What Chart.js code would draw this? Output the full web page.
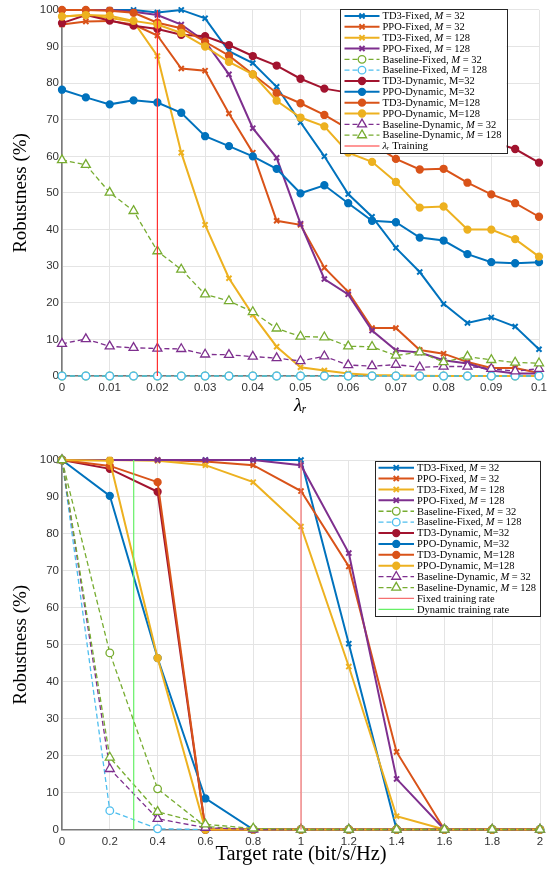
<!DOCTYPE html>
<html>
<head>
<meta charset="utf-8">
<script src="https://cdn.jsdelivr.net/npm/chart.js@4.4.0/dist/chart.umd.min.js"></script>
<style>
  html, body { margin: 0; padding: 0; background: #fff; }
  #wrap { position: relative; width: 553px; height: 870px; }
  canvas { position: absolute; left: 0; }
</style>
</head>
<body>
<div id="wrap">
  <canvas id="lambda-chart" width="553" height="435" style="top:0"></canvas>
  <canvas id="rate-chart" width="553" height="435" style="top:435px"></canvas>
</div>
<script>
// ---- top chart: robustness vs lambda_r ----
const lambdaR = [0, 0.005, 0.01, 0.015, 0.02, 0.025, 0.03, 0.035, 0.04, 0.045, 0.05,
                 0.055, 0.06, 0.065, 0.07, 0.075, 0.08, 0.085, 0.09, 0.095, 0.1];
const lamTd3Fixed32  = [100, 100, 100, 100, 99.3, 100, 97.7, 88.7, 85.5, 79, 69.3, 60, 49.7, 43.5, 35, 28.4, 19.7, 14.5, 16, 13.5, 7.3];
const lamPpoFixed32  = [96, 96.8, 97, 96, 93, 84, 83.4, 71.7, 61, 42.4, 41.3, 29.6, 23, 13.1, 13.1, 7.1, 6.1, 3.8, 2.2, 2.2, 0.8];
const lamTd3Fixed128 = [98.2, 98.6, 97.8, 96.8, 87.4, 61, 41.3, 26.7, 16.7, 8, 2.4, 1.5, 0.7, 0.3, 0.2, 0.1, 0, 0, 0, 0, 0];
const lamPpoFixed128 = [100, 100, 100, 99.5, 98.6, 96, 91.4, 82.4, 67.7, 59.6, 41.6, 26.5, 22.3, 12.4, 7, 6.4, 4.3, 3.4, 1.5, 0.7, 0.7];
const lamBaseFixed32  = [0, 0, 0, 0, 0, 0, 0, 0, 0, 0, 0, 0, 0, 0, 0, 0, 0, 0, 0, 0, 0];
const lamBaseFixed128 = [0, 0, 0, 0, 0, 0, 0, 0, 0, 0, 0, 0, 0, 0, 0, 0, 0, 0, 0, 0, 0];
const lamTd3Dyn32  = [96.4, 98.6, 97.1, 95.7, 94.8, 93.2, 92.8, 90.4, 87.4, 84.8, 81.2, 78.5, 77.4, 75.5, 73.5, 71, 68.5, 66, 64, 62, 58.3];
const lamPpoDyn32  = [78.2, 76.1, 74.2, 75.3, 74.7, 71.9, 65.5, 62.8, 60, 56.6, 49.9, 52.1, 47.2, 42.4, 42, 37.8, 37, 33.3, 31.1, 30.8, 31.1];
const lamTd3Dyn128 = [100, 100, 99.8, 99.2, 96.5, 95, 91.3, 87.5, 82.4, 77.3, 74.5, 71.3, 67.5, 63.5, 59.3, 56.4, 56.6, 52.8, 49.6, 47.2, 43.5];
const lamPpoDyn128 = [98.2, 98.6, 98.4, 97, 96, 93.7, 90, 85.8, 82.4, 75.2, 70.6, 68.2, 61, 58.5, 53, 46, 46.3, 40, 40, 37.4, 32.6];
const lamBaseDyn32  = [8.8, 10.1, 8.1, 7.7, 7.5, 7.4, 5.9, 5.8, 5.3, 4.9, 4.1, 5.4, 3, 2.7, 3.1, 2.4, 2.6, 2.6, 2, 1.3, 2];
const lamBaseDyn128 = [59, 57.7, 50.1, 45.1, 34.1, 29.1, 22.3, 20.5, 17.5, 13, 10.8, 10.6, 8.1, 8, 5.6, 6.5, 3.8, 5.3, 4.4, 3.7, 3.5];
const trainLambda = 0.02;

// ---- bottom chart: robustness vs target rate ----
const targetRate = [0, 0.2, 0.4, 0.6, 0.8, 1, 1.2, 1.4, 1.6, 1.8, 2];
const rateTd3Fixed32  = [100, 100, 100, 100, 100, 100, 50.3, 0, 0, 0, 0];
const ratePpoFixed32  = [100, 100, 100, 99.6, 98.6, 91.6, 71.2, 21, 0, 0, 0];
const rateTd3Fixed128 = [100, 100, 99.8, 98.6, 94, 82, 44.1, 3.6, 0, 0, 0];
const ratePpoFixed128 = [100, 100, 100, 100, 100, 98.6, 74.8, 13.7, 0, 0, 0];
const rateBaseFixed32  = [100, 47.8, 11, 0.8, 0, 0, 0, 0, 0, 0, 0];
const rateBaseFixed128 = [100, 5.1, 0.2, 0, 0, 0, 0, 0, 0, 0, 0];
const rateTd3Dyn32  = [100, 97.6, 91.4, 0, 0, 0, 0, 0, 0, 0, 0];
const ratePpoDyn32  = [100, 90.3, 46.4, 8.4, 0, 0, 0, 0, 0, 0, 0];
const rateTd3Dyn128 = [100, 98.4, 94, 0, 0, 0, 0, 0, 0, 0, 0];
const ratePpoDyn128 = [100, 99.8, 46.4, 0, 0, 0, 0, 0, 0, 0, 0];
const rateBaseDyn32  = [100, 16.4, 2.9, 0.5, 0, 0, 0, 0, 0, 0, 0];
const rateBaseDyn128 = [100, 19.5, 4.8, 1.4, 0.3, 0, 0, 0, 0, 0, 0];
const fixedTrainRate = 1;
const dynamicTrainRate = 0.3;

// matlab default colour order
const col = {
  blue: '#0072BD', orange: '#D95319', yellow: '#EDB120', purple: '#7E2F8E',
  green: '#77AC30', cyan: '#4DBEEE', wine: '#A2142F'
};
const SERIF = "'Liberation Serif', 'DejaVu Serif', serif";
const SANS = "'Liberation Sans', Arial, sans-serif";

function series(label, xs, ys, color, kind) {
  const ds = {
    label: label,
    data: xs.map((x, k) => ({ x: x, y: ys[k] })),
    borderColor: color,
    pointBorderColor: color,
    pointBackgroundColor: color,
    borderWidth: 2,
    borderDash: [],
    pointStyle: 'circle',
    pointRadius: 3.4,
    pointBorderWidth: 1.5,
    tension: 0,
    clip: false
  };
  if (kind === 'x') {
    ds.pointStyle = 'crossRot';
    ds.pointRadius = 3.6;
    ds.pointBorderWidth = 2;
  } else if (kind === 'ring' || kind === 'tri') {
    ds.borderWidth = 1.3;
    ds.borderDash = [5, 3];
    ds.pointBackgroundColor = '#fff';
    ds.pointBorderWidth = 1.3;
    ds.pointRadius = kind === 'ring' ? 3.8 : 5.2;
    if (kind === 'tri') ds.pointStyle = 'triangle';
  }
  return ds;
}

// vertical marker line at a training value
function vline(label, xVal, color) {
  return {
    label: label,
    data: [{ x: xVal, y: 0 }, { x: xVal, y: 100 }],
    borderColor: color,
    borderWidth: 1.2,
    borderDash: [],
    pointRadius: 0,
    clip: false
  };
}

// label -> text pieces, italic where matlab used math mode
function labelParts(label) {
  const m = label.match(/^(.*, )M( = .*)$/);
  if (m) return [[m[1], false], ['M', true], [m[2], false]];
  if (label.startsWith('λᵣ')) return [['λᵣ', true], [label.slice(2), false]];
  return [[label, false]];
}

// boxed legend drawn inside the plot, like matlab's 'northeast' legend
const insetLegend = {
  id: 'insetLegend',
  afterDraw(chart, args, opts) {
    const ctx = chart.ctx;
    const area = chart.chartArea;
    const sets = chart.data.datasets;
    const fontOf = it => (it ? 'italic ' : '') + opts.size + 'px ' + SERIF;
    ctx.save();
    const widths = sets.map(ds => labelParts(ds.label).reduce((w, p) => {
      ctx.font = fontOf(p[1]);
      return w + ctx.measureText(p[0]).width;
    }, 0));
    const w = opts.textX + Math.max(...widths) + opts.padR;
    const h = sets.length * opts.rowH + 2 * opts.padY;
    const x0 = Math.round(area.right - opts.right - w);
    const y0 = Math.round(area.top + opts.top);
    ctx.fillStyle = '#fff';
    ctx.fillRect(x0, y0, w, h);
    ctx.strokeStyle = '#262626';
    ctx.lineWidth = 1;
    ctx.strokeRect(x0 + 0.5, y0 + 0.5, Math.round(w), Math.round(h));
    sets.forEach((ds, i) => {
      const cy = y0 + opts.padY + opts.rowH * (i + 0.5);
      const sx = x0 + opts.lineX;
      ctx.strokeStyle = ds.borderColor;
      ctx.lineWidth = ds.borderWidth;
      ctx.setLineDash(ds.borderDash || []);
      ctx.beginPath();
      ctx.moveTo(sx, cy);
      ctx.lineTo(sx + opts.sample, cy);
      ctx.stroke();
      ctx.setLineDash([]);
      if (ds.pointRadius > 0) {
        ctx.fillStyle = ds.pointBackgroundColor;
        ctx.strokeStyle = ds.pointBorderColor;
        ctx.lineWidth = ds.pointBorderWidth;
        Chart.helpers.drawPoint(ctx, {
          pointStyle: ds.pointStyle, rotation: 0,
          radius: ds.pointRadius, borderWidth: ds.pointBorderWidth
        }, sx + opts.sample / 2, cy);
      }
      let tx = x0 + opts.textX;
      ctx.fillStyle = '#000';
      ctx.textBaseline = 'middle';
      labelParts(ds.label).forEach(p => {
        ctx.font = fontOf(p[1]);
        ctx.fillText(p[0], tx, cy + 0.5);
        tx += ctx.measureText(p[0]).width;
      });
    });
    ctx.restore();
  }
};

function buildChart(id, datasets, xCfg, legendCfg) {
  // later series on top, as in matlab
  datasets.forEach((ds, i) => { ds.order = datasets.length - i; });
  return new Chart(document.getElementById(id), {
    type: 'line',
    data: { datasets: datasets },
    plugins: [insetLegend],
    options: {
      responsive: false,
      animation: false,
      events: [],
      layout: { padding: { left: 0, right: xCfg.padRight, top: xCfg.padTop, bottom: 0 } },
      plugins: {
        legend: { display: false },
        tooltip: { enabled: false },
        insetLegend: legendCfg
      },
      scales: {
        x: {
          type: 'linear',
          min: xCfg.min, max: xCfg.max,
          grid: { color: '#e4e4e4', drawTicks: false },
          border: { color: '#7a7a7a', width: 1.6 },
          ticks: {
            stepSize: xCfg.step, autoSkip: false, maxRotation: 0, padding: 5,
            color: '#333', font: { family: SANS, size: 11.5 },
            callback: v => String(+v.toFixed(xCfg.digits))
          },
          title: {
            display: true, text: xCfg.title, color: '#000',
            font: { family: SERIF, size: xCfg.titleSize, style: xCfg.titleStyle },
            padding: { top: 0, bottom: xCfg.titlePad }
          },
          afterFit: s => { s.height = xCfg.axisH; }
        },
        y: {
          min: 0, max: 100,
          grid: { color: '#e4e4e4', drawTicks: false },
          border: { color: '#7a7a7a', width: 1.6 },
          ticks: {
            stepSize: 10, padding: 3,
            color: '#333', font: { family: SANS, size: 11.5 }
          },
          title: {
            display: true, text: 'Robustness (%)', color: '#000',
            font: { family: SERIF, size: 19 },
            padding: { top: 10, bottom: 0 }
          },
          afterFit: s => { s.width = 62; }
        }
      }
    }
  });
}

document.addEventListener('DOMContentLoaded', () => {
  const x1 = lambdaR;
  buildChart('lambda-chart', [
    series('TD3-Fixed, M = 32', x1, lamTd3Fixed32, col.blue, 'x'),
    series('PPO-Fixed, M = 32', x1, lamPpoFixed32, col.orange, 'x'),
    series('TD3-Fixed, M = 128', x1, lamTd3Fixed128, col.yellow, 'x'),
    series('PPO-Fixed, M = 128', x1, lamPpoFixed128, col.purple, 'x'),
    series('Baseline-Fixed, M = 32', x1, lamBaseFixed32, col.green, 'ring'),
    series('Baseline-Fixed, M = 128', x1, lamBaseFixed128, col.cyan, 'ring'),
    series('TD3-Dynamic, M=32', x1, lamTd3Dyn32, col.wine, 'dot'),
    series('PPO-Dynamic, M=32', x1, lamPpoDyn32, col.blue, 'dot'),
    series('TD3-Dynamic, M=128', x1, lamTd3Dyn128, col.orange, 'dot'),
    series('PPO-Dynamic, M=128', x1, lamPpoDyn128, col.yellow, 'dot'),
    series('Baseline-Dynamic, M = 32', x1, lamBaseDyn32, col.purple, 'tri'),
    series('Baseline-Dynamic, M = 128', x1, lamBaseDyn128, col.green, 'tri'),
    vline('λᵣ Training', trainLambda, '#FF3030')
  ], {
    min: 0, max: 0.1, step: 0.01, digits: 3, title: 'λᵣ', titleStyle: 'italic', titleSize: 19,
    titlePad: 18, axisH: 59, padTop: 7, padRight: 14
  }, { size: 10.5, rowH: 10.83, padY: 1.6, right: 32, top: -1, lineX: 4.5, sample: 35, textX: 42.5, padR: 5 });

  const x2 = targetRate;
  buildChart('rate-chart', [
    series('TD3-Fixed, M = 32', x2, rateTd3Fixed32, col.blue, 'x'),
    series('PPO-Fixed, M = 32', x2, ratePpoFixed32, col.orange, 'x'),
    series('TD3-Fixed, M = 128', x2, rateTd3Fixed128, col.yellow, 'x'),
    series('PPO-Fixed, M = 128', x2, ratePpoFixed128, col.purple, 'x'),
    series('Baseline-Fixed, M = 32', x2, rateBaseFixed32, col.green, 'ring'),
    series('Baseline-Fixed, M = 128', x2, rateBaseFixed128, col.cyan, 'ring'),
    series('TD3-Dynamic, M=32', x2, rateTd3Dyn32, col.wine, 'dot'),
    series('PPO-Dynamic, M=32', x2, ratePpoDyn32, col.blue, 'dot'),
    series('TD3-Dynamic, M=128', x2, rateTd3Dyn128, col.orange, 'dot'),
    series('PPO-Dynamic, M=128', x2, ratePpoDyn128, col.yellow, 'dot'),
    series('Baseline-Dynamic, M = 32', x2, rateBaseDyn32, col.purple, 'tri'),
    series('Baseline-Dynamic, M = 128', x2, rateBaseDyn128, col.green, 'tri'),
    vline('Fixed training rate', fixedTrainRate, '#F57070'),
    vline('Dynamic training rate', dynamicTrainRate, '#66F066')
  ], {
    min: 0, max: 2, step: 0.2, digits: 1, title: 'Target rate (bit/s/Hz)', titleStyle: 'normal', titleSize: 20.5,
    titlePad: 3, axisH: 40.5, padTop: 25, padRight: 13
  }, { size: 10.5, rowH: 10.9, padY: 1.2, right: 0, top: 1, lineX: 3.5, sample: 35.5, textX: 42, padR: 4 });
});
</script>
</body>
</html>
